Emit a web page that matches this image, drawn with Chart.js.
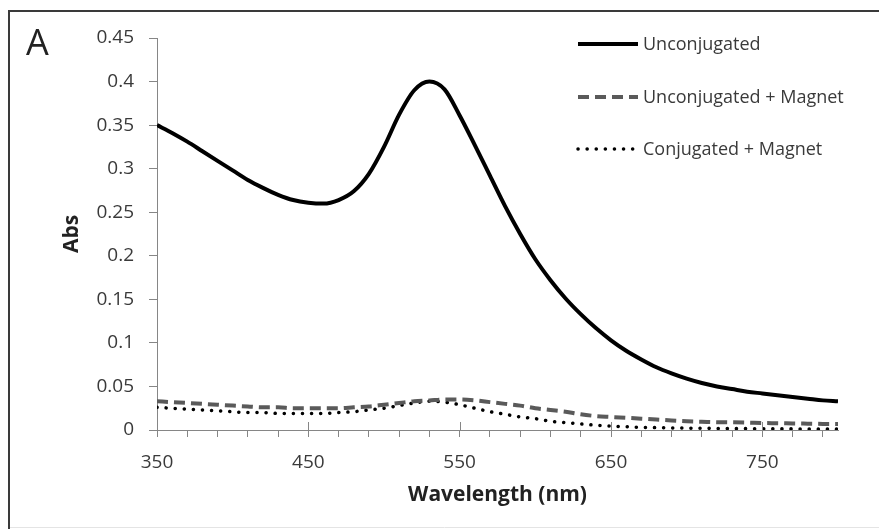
<!DOCTYPE html>
<html>
<head>
<meta charset="utf-8">
<script src="https://cdn.jsdelivr.net/npm/chart.js@4.4.1/dist/chart.umd.min.js"></script>
<style>
  body { margin: 0; background: #fff; }
  #wrap { width: 879px; height: 529px; }
</style>
</head>
<body>
<div id="wrap"><canvas id="myChart" width="879" height="529"></canvas></div>
<script>
// wavelength in nm, every 10 nm
var wavelength = [350, 360, 370, 380, 390, 400, 410, 420, 430, 440,
                  450, 460, 470, 480, 490, 500, 510, 520, 530, 540,
                  550, 560, 570, 580, 590, 600, 610, 620, 630, 640,
                  650, 660, 670, 680, 690, 700, 710, 720, 730, 740,
                  750, 760, 770, 780, 790, 800];

var unconjugated = [0.350, 0.341, 0.331, 0.320, 0.309, 0.298, 0.287, 0.278, 0.270, 0.264,
                    0.261, 0.260, 0.264, 0.274, 0.294, 0.325, 0.362, 0.390, 0.400, 0.391,
                    0.361, 0.327, 0.292, 0.257, 0.225, 0.196, 0.172, 0.151, 0.133, 0.117,
                    0.103, 0.091, 0.081, 0.072, 0.065, 0.059, 0.054, 0.050, 0.047, 0.044,
                    0.042, 0.040, 0.038, 0.036, 0.034, 0.033];

var unconjMagnet = [0.033, 0.032, 0.031, 0.030, 0.029, 0.028, 0.027, 0.026, 0.026, 0.025,
                    0.025, 0.025, 0.025, 0.026, 0.027, 0.029, 0.031, 0.033, 0.034, 0.035,
                    0.035, 0.034, 0.032, 0.030, 0.028, 0.025, 0.023, 0.021, 0.018, 0.016,
                    0.015, 0.014, 0.013, 0.012, 0.011, 0.010, 0.0095, 0.009, 0.0088, 0.0085,
                    0.008, 0.0078, 0.0075, 0.0073, 0.007, 0.007];

var conjMagnet = [0.026, 0.025, 0.024, 0.023, 0.022, 0.021, 0.020, 0.020, 0.019, 0.019,
                  0.019, 0.019, 0.020, 0.021, 0.023, 0.025, 0.028, 0.031, 0.033, 0.032,
                  0.029, 0.025, 0.021, 0.018, 0.015, 0.013, 0.010, 0.0085, 0.007, 0.0055,
                  0.0045, 0.0038, 0.003, 0.0027, 0.0024, 0.0022, 0.002, 0.0018, 0.0017, 0.0016,
                  0.0015, 0.0014, 0.0013, 0.0012, 0.0011, 0.001];

var seriesNames = ['Unconjugated', 'Unconjugated + Magnet', 'Conjugated + Magnet'];
var xMajorTicks = [350, 450, 550, 650, 750];
var xTickLabels = ['350', '450', '550', '650', '750'];
var yTickLabels = ['0', '0.05', '0.1', '0.15', '0.2', '0.25', '0.3', '0.35', '0.4', '0.45'];

var axisGray = '#868686';
var textGray = '#3a3a3a';
var fontName = "'Open Sans', sans-serif";

function pts(ys) {
    return wavelength.map(function (x, i) { return { x: x, y: ys[i] }; });
}

// frame, panel letter, legend and the upper half of the major x ticks
var extras = {
    id: 'extras',
    afterDraw: function (chart) {
        var ctx = chart.ctx;
        var xs = chart.scales.x;
        var ca = chart.chartArea;
        ctx.save();

        ctx.strokeStyle = axisGray;
        ctx.lineWidth = 1;
        xMajorTicks.forEach(function (v) {
            if (v === 350) return;
            var px = Math.round(xs.getPixelForValue(v)) + 0.5;
            ctx.beginPath();
            ctx.moveTo(px, ca.bottom - 8);
            ctx.lineTo(px, ca.bottom);
            ctx.stroke();
        });

        ctx.strokeStyle = '#3a3a3a';
        ctx.lineWidth = 2;
        ctx.beginPath();
        ctx.moveTo(9, 529);
        ctx.lineTo(9, 11);
        ctx.lineTo(879, 11);
        ctx.stroke();
        ctx.strokeStyle = '#e4e4e4';
        ctx.lineWidth = 1;
        ctx.beginPath();
        ctx.moveTo(10, 527.5);
        ctx.lineTo(879, 527.5);
        ctx.stroke();

        ctx.fillStyle = '#222';
        ctx.font = '36px ' + fontName;
        ctx.textBaseline = 'alphabetic';
        ctx.textAlign = 'left';
        ctx.fillText('A', 26, 55);

        var rows = [44, 97, 149];
        ctx.font = '18px ' + fontName;
        ctx.textBaseline = 'middle';
        chart.data.datasets.forEach(function (ds, i) {
            var y = rows[i];
            ctx.strokeStyle = ds.borderColor;
            ctx.lineWidth = ds.borderWidth;
            ctx.lineCap = ds.borderCapStyle || 'butt';
            ctx.setLineDash(ds.borderDash || []);
            ctx.beginPath();
            ctx.moveTo(578, y);
            ctx.lineTo(638, y);
            ctx.stroke();
            ctx.setLineDash([]);
            ctx.fillStyle = textGray;
            ctx.fillText(ds.label, 643, y + 1);
        });
        ctx.restore();
    }
};

var ctx = document.getElementById('myChart');
var myChart = new Chart(ctx, {
    type: 'line',
    data: {
        datasets: [{
            label: seriesNames[0],
            data: pts(unconjugated),
            borderColor: '#000000',
            borderWidth: 4,
            pointRadius: 0,
            cubicInterpolationMode: 'monotone'
        }, {
            label: seriesNames[1],
            data: pts(unconjMagnet),
            borderColor: '#5a5a5a',
            borderWidth: 4,
            borderDash: [11, 6],
            pointRadius: 0,
            cubicInterpolationMode: 'monotone'
        }, {
            label: seriesNames[2],
            data: pts(conjMagnet),
            borderColor: '#000000',
            borderWidth: 3.5,
            borderDash: [0.1, 9],
            borderCapStyle: 'round',
            pointRadius: 0,
            cubicInterpolationMode: 'monotone'
        }]
    },
    options: {
        responsive: false,
        animation: false,
        layout: { padding: { left: 0, right: 41, top: 38, bottom: 0 } },
        plugins: {
            legend: { display: false },
            tooltip: { enabled: false }
        },
        scales: {
            x: {
                type: 'linear',
                min: 350,
                max: 800,
                afterBuildTicks: function (scale) {
                    var t = [];
                    for (var v = 350; v < 800; v += 20) t.push({ value: v });
                    scale.ticks = t;
                },
                afterFit: function (scale) { scale.height = 99; },
                ticks: {
                    autoSkip: false,
                    maxRotation: 0,
                    padding: 14,
                    color: textGray,
                    font: { family: fontName, size: 19 },
                    callback: function (value) {
                        var k = xMajorTicks.indexOf(value);
                        return k >= 0 ? xTickLabels[k] : '';
                    }
                },
                grid: { drawOnChartArea: false, color: axisGray, tickLength: 7 },
                border: { color: axisGray, width: 1 },
                title: {
                    display: true,
                    text: 'Wavelength (nm)',
                    color: '#222',
                    font: { family: fontName, size: 21, weight: 'bold' },
                    padding: { top: 4, bottom: 21 }
                }
            },
            y: {
                min: 0,
                max: 0.45,
                afterFit: function (scale) { scale.width = 157; },
                ticks: {
                    stepSize: 0.05,
                    padding: 15,
                    color: textGray,
                    font: { family: fontName, size: 19 },
                    callback: function (value, index) { return yTickLabels[index]; }
                },
                grid: { drawOnChartArea: false, color: axisGray, tickLength: 8 },
                border: { color: axisGray, width: 1 },
                title: {
                    display: true,
                    text: 'Abs',
                    color: '#222',
                    font: { family: fontName, size: 21, weight: 'bold' },
                    padding: { top: 59, bottom: 0 }
                }
            }
        }
    },
    plugins: [extras]
});
</script>
</body>
</html>
